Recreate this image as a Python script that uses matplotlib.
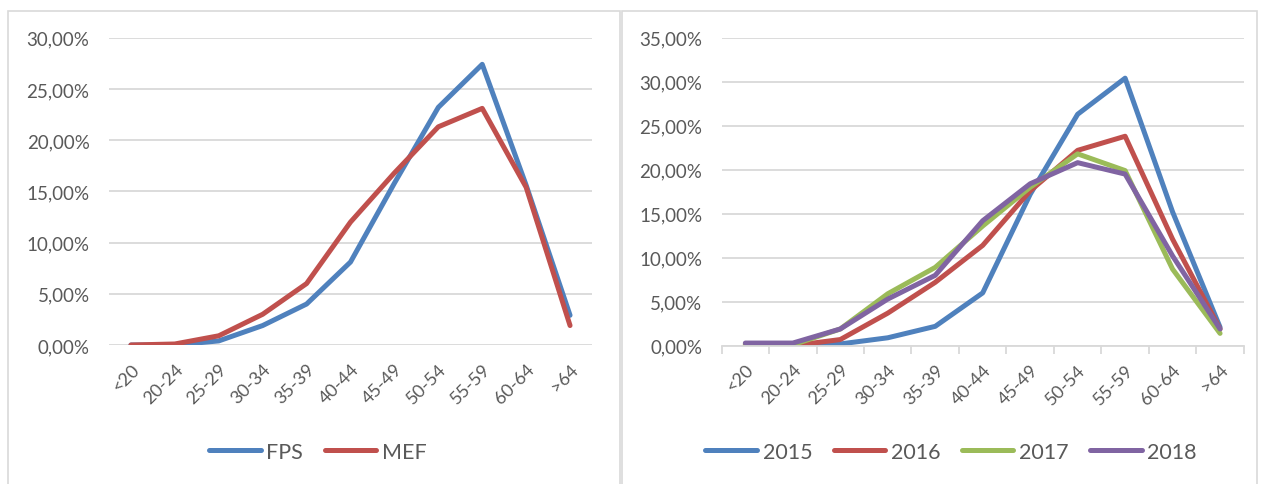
import matplotlib
matplotlib.use("Agg")
import matplotlib.pyplot as plt
from matplotlib.patches import Rectangle
from matplotlib.ticker import FuncFormatter, MultipleLocator

categories = ["<20", "20-24", "25-29", "30-34", "35-39", "40-44", "45-49",
              "50-54", "55-59", "60-64", ">64"]

fps = [0.0, 0.0, 0.4, 1.9, 4.0, 8.1, 15.8, 23.2, 27.4, 15.6, 2.9]
mef = [0.0, 0.1, 0.9, 3.0, 6.0, 12.0, 16.8, 21.3, 23.1, 15.4, 1.9]

y2015 = [0.0, 0.0, 0.2, 0.9, 2.2, 6.0, 17.2, 26.3, 30.4, 15.2, 2.1]
y2016 = [0.1, 0.0, 0.7, 3.7, 7.2, 11.4, 17.6, 22.2, 23.8, 12.1, 1.9]
y2017 = [0.2, 0.1, 1.9, 5.9, 8.9, 13.6, 18.0, 21.8, 19.9, 8.7, 1.4]
y2018 = [0.3, 0.3, 1.9, 5.3, 8.0, 14.2, 18.4, 20.8, 19.5, 10.2, 1.9]

BLUE = "#4F81BD"
RED = "#C0504D"
GREEN = "#9BBB59"
PURPLE = "#8064A2"
TXT = "#595959"
GRID = "#D9D9D9"

plt.rcParams['font.family'] = ['Lato', 'DejaVu Sans']

W, H = 1262, 485
fig = plt.figure(figsize=(W / 100, H / 100), dpi=100)

# panel borders
for (x0, x1) in [(8, 620), (622, 1257)]:
    fig.patches.append(Rectangle((x0 / W, -0.05), (x1 - x0) / W, (H - 12) / H + 0.05,
                                 transform=fig.transFigure, fill=False,
                                 edgecolor=GRID, linewidth=1.2))

fmt = FuncFormatter(lambda v, p: f"{v:.2f}".replace(".", ",") + "%")


def style(ax, ymax, ticks_axis):
    ax.set_xlim(-0.5, len(categories) - 0.5)
    ax.set_ylim(0, ymax)
    ax.yaxis.set_major_locator(MultipleLocator(5))
    ax.yaxis.set_major_formatter(fmt)
    ax.grid(axis='y', color=GRID, linewidth=1.3)
    ax.set_axisbelow(True)
    for s in ax.spines.values():
        s.set_visible(False)
    ax.tick_params(axis='y', length=0, labelsize=13.5, labelcolor=TXT, pad=14)
    ax.set_xticks(range(len(categories)))
    ax.set_xticklabels(categories, rotation=45, ha='right', rotation_mode='anchor')
    ax.tick_params(axis='x', length=0, labelsize=13, labelcolor=TXT, pad=11)
    if ticks_axis:
        ax.spines['bottom'].set_visible(True)
        ax.spines['bottom'].set_color(GRID)
        ax.spines['bottom'].set_linewidth(1.3)
        ax.set_xticks([i - 0.5 for i in range(len(categories) + 1)], minor=True)
        ax.tick_params(axis='x', which='minor', length=6, color=GRID, width=1.3)


leg_kw = dict(loc='center', frameon=False, fontsize=15.5, handlelength=2.4,
              handletextpad=0.25, columnspacing=1.0, labelcolor=TXT)

ax1 = fig.add_axes([109 / W, (H - 346) / H, 483 / W, (346 - 38.7) / H])
x = range(len(categories))
ax1.plot(x, fps, color=BLUE, lw=3.6, label="FPS", solid_capstyle='round', solid_joinstyle='round')
ax1.plot(x, mef, color=RED, lw=3.6, label="MEF", solid_capstyle='round', solid_joinstyle='round')
style(ax1, 30, False)
ax1.legend(bbox_to_anchor=(318 / W, (H - 453) / H), bbox_transform=fig.transFigure,
           ncol=2, **leg_kw)

ax2 = fig.add_axes([721.6 / W, (H - 346.7) / H, 522.2 / W, (346.7 - 38.7) / H])
for vals, c, lab in [(y2015, BLUE, "2015"), (y2016, RED, "2016"),
                     (y2017, GREEN, "2017"), (y2018, PURPLE, "2018")]:
    ax2.plot(x, vals, color=c, lw=3.6, label=lab, solid_capstyle='round', solid_joinstyle='round')
style(ax2, 35, True)
ax2.legend(bbox_to_anchor=(951 / W, (H - 453) / H), bbox_transform=fig.transFigure,
           ncol=4, **leg_kw)

fig.savefig("out.png", dpi=100)
